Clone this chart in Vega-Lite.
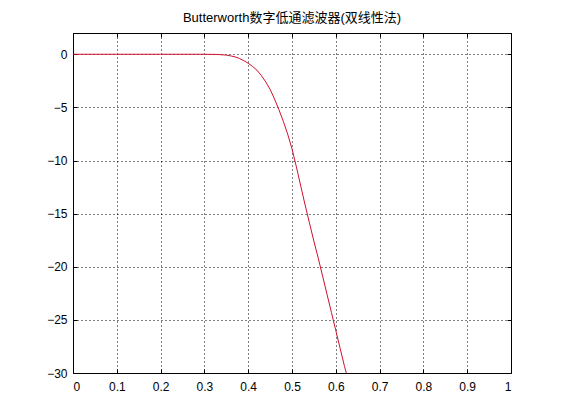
{
  "$schema": "https://vega.github.io/schema/vega-lite/v6.json",
  "width": 438,
  "height": 340,
  "autosize": "none",
  "padding": {"left": 73, "top": 33, "right": 50, "bottom": 47},
  "background": "white",
  "config": {
    "font": "Liberation Sans, Noto Sans CJK SC",
    "view": {"stroke": "black", "strokeWidth": 1}
  },
  "title": {
    "text": "Butterworth数字低通滤波器(双线性法)",
    "fontSize": 13,
    "fontWeight": "normal",
    "color": "black",
    "offset": 8,
    "font": "Liberation Sans, Noto Sans CJK SC"
  },
  "data": {
    "values": [
      {"f": 0.0, "db": 0},
      {"f": 0.1, "db": 0},
      {"f": 0.2, "db": 0},
      {"f": 0.3, "db": 0},
      {"f": 0.33, "db": -0.02},
      {"f": 0.34, "db": -0.05},
      {"f": 0.35, "db": -0.08},
      {"f": 0.36, "db": -0.15},
      {"f": 0.37, "db": -0.25},
      {"f": 0.38, "db": -0.4},
      {"f": 0.39, "db": -0.6},
      {"f": 0.40, "db": -0.85},
      {"f": 0.41, "db": -1.15},
      {"f": 0.42, "db": -1.5},
      {"f": 0.43, "db": -2.0},
      {"f": 0.44, "db": -2.6},
      {"f": 0.45, "db": -3.3},
      {"f": 0.46, "db": -4.2},
      {"f": 0.47, "db": -5.2},
      {"f": 0.48, "db": -6.3},
      {"f": 0.49, "db": -7.5},
      {"f": 0.50, "db": -8.9},
      {"f": 0.51, "db": -10.6},
      {"f": 0.52, "db": -12.4},
      {"f": 0.53, "db": -14.2},
      {"f": 0.54, "db": -15.9},
      {"f": 0.55, "db": -17.6},
      {"f": 0.56, "db": -19.2},
      {"f": 0.57, "db": -20.9},
      {"f": 0.58, "db": -22.6},
      {"f": 0.59, "db": -24.3},
      {"f": 0.60, "db": -26.0},
      {"f": 0.61, "db": -27.7},
      {"f": 0.62, "db": -29.4},
      {"f": 0.624, "db": -30}
    ]
  },
  "layer": [
    {
      "mark": {"type": "line", "color": "#d0102c", "strokeWidth": 1, "clip": true},
      "encoding": {
        "x": {
          "field": "f",
          "type": "quantitative",
          "scale": {"domain": [0, 1], "nice": false, "zero": false},
          "axis": {
            "title": null,
            "values": [0, 0.1, 0.2, 0.3, 0.4, 0.5, 0.6, 0.7, 0.8, 0.9, 1],
            "format": "~g",
            "grid": true,
            "gridColor": "black",
            "gridDash": [1, 3],
            "gridOpacity": 1,
            "domain": false,
            "tickSize": -4,
            "tickColor": "black",
            "labelFontSize": 12,
            "labelColor": "black",
            "labelPadding": 12,
            "labelFont": "Liberation Sans"
          }
        },
        "y": {
          "field": "db",
          "type": "quantitative",
          "scale": {"domain": [-30, 2], "nice": false, "zero": false},
          "axis": {
            "title": null,
            "values": [-30, -25, -20, -15, -10, -5, 0],
            "grid": true,
            "gridColor": "black",
            "gridDash": [1, 3],
            "gridOpacity": 1,
            "domain": false,
            "tickSize": -4,
            "tickColor": "black",
            "labelFontSize": 12,
            "labelColor": "black",
            "labelPadding": 10,
            "labelFont": "Liberation Sans"
          }
        }
      }
    },
    {
      "mark": {"type": "line", "opacity": 0, "clip": true},
      "encoding": {
        "x": {
          "field": "f",
          "type": "quantitative",
          "scale": {"domain": [0, 1], "nice": false, "zero": false},
          "axis": {
            "orient": "top",
            "title": null,
            "values": [0, 0.1, 0.2, 0.3, 0.4, 0.5, 0.6, 0.7, 0.8, 0.9, 1],
            "labels": false,
            "grid": false,
            "domain": false,
            "tickSize": -4,
            "tickColor": "black"
          }
        },
        "y": {
          "field": "db",
          "type": "quantitative",
          "scale": {"domain": [-30, 2], "nice": false, "zero": false},
          "axis": {
            "orient": "right",
            "title": null,
            "values": [-30, -25, -20, -15, -10, -5, 0],
            "labels": false,
            "grid": false,
            "domain": false,
            "tickSize": -4,
            "tickColor": "black"
          }
        }
      }
    }
  ],
  "resolve": {"axis": {"x": "independent", "y": "independent"}}
}
